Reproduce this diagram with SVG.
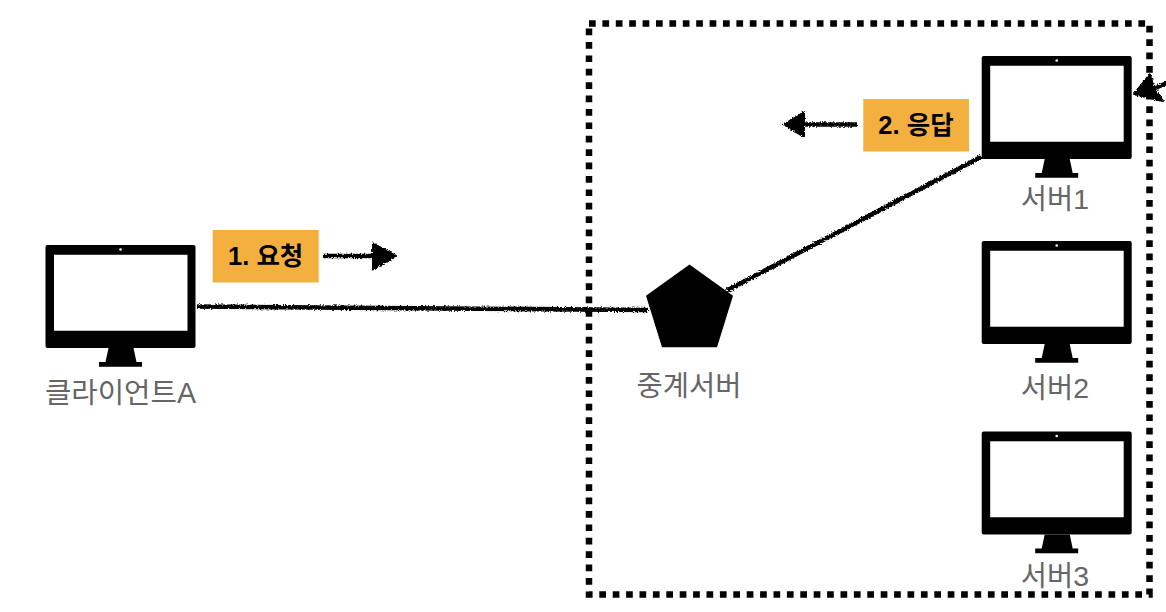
<svg xmlns="http://www.w3.org/2000/svg" width="1166" height="612" viewBox="0 0 1166 612">
<style>
.cap{font-family:"Liberation Sans","Noto Sans CJK KR",sans-serif;font-size:28.500px;fill:#666;text-anchor:middle}
.tag{font-family:"Liberation Sans","Noto Sans CJK KR",sans-serif;font-size:25.500px;font-weight:700;fill:#000;text-anchor:middle}
.box{fill:#f4b03e}
.sk{fill:none;stroke:#000;stroke-width:4.600}
.hd{fill:#000;stroke:#000;stroke-width:2;stroke-linejoin:round}
</style>
<defs>
<filter id="rough" x="0" y="0" width="1166" height="612" filterUnits="userSpaceOnUse">
<feTurbulence type="fractalNoise" baseFrequency="0.7" numOctaves="2" seed="4"/>
<feDisplacementMap in="SourceGraphic" scale="4" xChannelSelector="R" yChannelSelector="G"/>
</filter>
<g id="mon">
<path fill-rule="evenodd" d="M2 0H148a2 2 0 0 1 2 2V101a2 2 0 0 1-2 2H2a2 2 0 0 1-2-2V2a2 2 0 0 1 2-2ZM8.500 9.700V85.700H142V9.700Z"/>
<path d="M63 103H88L91 117H96.500V121.700H53.500V117H60Z"/>
<circle cx="75" cy="4.500" r="1.300" fill="#fff"/>
</g>
</defs>
<rect width="1166" height="612" fill="#fff"/>
<rect id="zone" x="589" y="23.500" width="560.500" height="571" fill="none" stroke="#000" stroke-width="6.500" stroke-dasharray="6.700 6.700"/>
<g id="connectors" filter="url(#rough)">
<path class="sk" d="M197 306.500L648 310"/>
<path class="sk" d="M727 290.500L981 157"/>
<path class="sk" d="M323 256H378"/>
<path class="hd" d="M373 243.500L396 256L373 269.500Z"/>
<path class="sk" d="M857 124.500H802"/>
<path class="hd" d="M804 112L784 124.500L804 137Z"/>
<path class="sk" d="M1167 83L1148 91"/>
<path class="hd" d="M1134 94L1150 74L1154 89L1163 101Z"/>
</g>
<g id="client-a"><use href="#mon" x="45.500" y="245"/><text class="cap" x="120.500" y="403" style="font-size:28.700px">클라이언트A</text></g>
<g id="relay"><path d="M689.500 264.500L733 295.800L717 347.300H662L646 295.800Z"/><text class="cap" x="689" y="396">중계서버</text></g>
<g id="server-1"><use href="#mon" x="981.700" y="56"/><text class="cap" x="1055" y="209">서버1</text></g>
<g id="server-2"><use href="#mon" x="981.700" y="241"/><text class="cap" x="1055" y="398">서버2</text></g>
<g id="server-3"><use href="#mon" x="981.700" y="431.500"/><text class="cap" x="1055" y="586">서버3</text></g>
<g id="label-1"><rect class="box" x="212.700" y="230" width="106" height="52.500"/><text class="tag" x="265.700" y="265">1. 요청</text></g>
<g id="label-2"><rect class="box" x="863.300" y="99" width="105.700" height="52.500"/><text class="tag" x="916" y="134">2. 응답</text></g>
</svg>
